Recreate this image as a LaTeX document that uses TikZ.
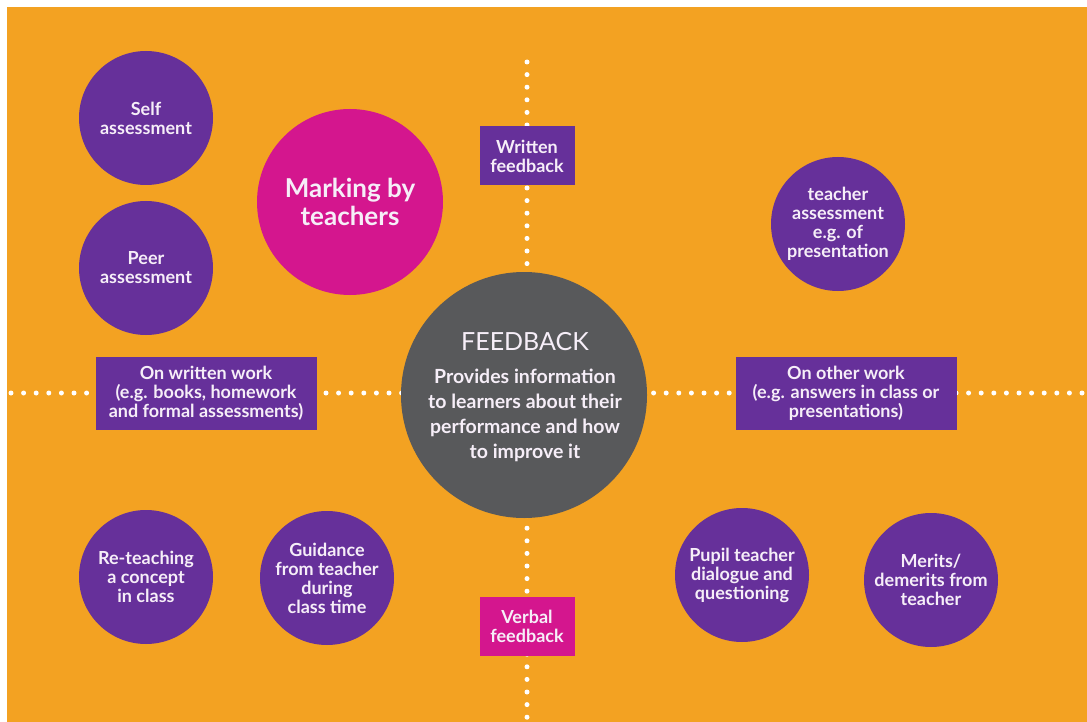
\documentclass[tikz,border=0pt]{standalone}
\usepackage{fontspec}
\setmainfont{Lato}
\definecolor{bgorange}{HTML}{F3A222}
\definecolor{fbpurple}{HTML}{66309A}
\definecolor{fbmagenta}{HTML}{D4168E}
\definecolor{fbgrey}{HTML}{58595B}
\definecolor{txtc}{HTML}{F6EEF8}
\tikzset{
  bubble/.style={circle, fill=fbpurple, minimum size=134pt, inner sep=0pt, align=center,
    text=txtc, font=\bfseries\fontsize{18}{19}\selectfont},
  sidebox/.style={rectangle, fill=fbpurple, minimum width=221pt, minimum height=73pt, inner sep=0pt,
    align=center, text=txtc, font=\bfseries\fontsize{18}{19}\selectfont},
  axisbox/.style={rectangle, minimum width=95pt, minimum height=59pt, inner sep=0pt,
    align=center, text=txtc, font=\bfseries\fontsize{18}{19}\selectfont},
  dotline/.style={draw=white, line width=5pt, line cap=round, dash pattern=on 0pt off 12.6pt}
}
\begin{document}
\begin{tikzpicture}[x=1pt,y=-1pt]
\useasboundingbox (0,0) rectangle (1087,722);
\fill[white] (0,0) rectangle (1087,722);
\fill[bgorange] (7,7) rectangle (1087,722);

% axes
\coordinate (vtop) at (527,62);
\coordinate (vbot) at (527,724);
\coordinate (hleft) at (11,393);
\coordinate (hright) at (1090,393);
\draw[dotline] (vtop) -- (vbot);
\draw[dotline] (hleft) -- (hright);

% centre
\node[circle, fill=fbgrey, minimum size=246pt, inner sep=0pt] (fb) at (524,395) {};
\node[text=txtc, font=\fontsize{25}{28}\selectfont] (fbt) at (525,342) {FEEDBACK};
\node[text=txtc, align=center, font=\bfseries\fontsize{19.5}{25}\selectfont] (fbb) at (525,415)
  {Provides information\\to learners about their\\performance and how\\to improve it};

% axis boxes
\node[axisbox, fill=fbpurple] (wf) at (527,156) {Written\\feedback};
\node[axisbox, fill=fbmagenta] (vf) at (527,626) {Verbal\\feedback};
\node[sidebox] (ww) at (206,393) {On written work\\(e.g. books, homework\\and formal assessments)};
\node[sidebox] (ow) at (846,393) {On other work\\(e.g. answers in class or\\presentations)};

% bubbles
\node[bubble] (self) at (146,118) {Self\\assessment};
\node[bubble] (peer) at (146,268) {Peer\\assessment};
\node[circle, fill=fbmagenta, minimum size=186pt, inner sep=0pt, align=center, text=txtc,
  font=\fontsize{26}{28}\selectfont\bfseries] (mark) at (350,202) {Marking by\\teachers};
\node[bubble] (tass) at (838,224) {teacher\\assessment\\e.g. of\\presentation};
\node[bubble] (reteach) at (146,577) {Re-teaching\\a concept\\in class};
\node[bubble] (guid) at (327,578) {Guidance\\from teacher\\during\\class time};
\node[bubble] (pupil) at (742,575) {Pupil teacher\\dialogue and\\questioning};
\node[bubble] (merits) at (931,580) {Merits/\\demerits from\\teacher};
\end{tikzpicture}
\end{document}
